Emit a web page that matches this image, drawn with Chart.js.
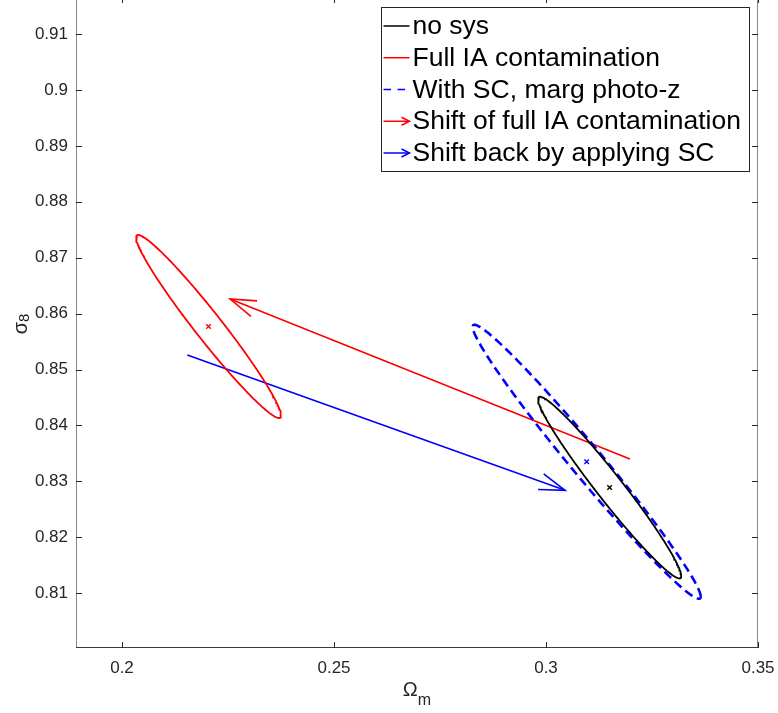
<!DOCTYPE html>
<html><head><meta charset="utf-8">
<script src="https://cdn.jsdelivr.net/npm/chart.js@4.4.1/dist/chart.umd.min.js"></script>
<style>html,body{margin:0;padding:0;background:#fff;}canvas{display:block;}</style>
</head><body>
<canvas id="c" width="778" height="713"></canvas>
<script>
// ---- data ----
const seriesLabels = ['no sys', 'Full IA contamination', 'With SC, marg photo-z',
  'Shift of full IA contamination', 'Shift back by applying SC'];
// Fisher ellipses: centre, 1-sigma widths and correlation (Omega_m, sigma_8)
const ellipseCenterOm = [0.3150, 0.2204, 0.3096];
const ellipseCenterS8 = [0.8289, 0.8577, 0.8335];
const ellipseSigmaOm  = [0.01688, 0.01709, 0.02689];
const ellipseSigmaS8  = [0.01624, 0.01637, 0.02450];
const ellipseRho      = [-0.973, -0.9715, -0.984];
// shift arrows (start -> end)
const arrowStartOm = [0.3198, 0.2154];
const arrowStartS8 = [0.8340, 0.8526];
const arrowEndOm   = [0.2255, 0.3045];
const arrowEndS8   = [0.8626, 0.8284];
// axes
const xTicks = [0.2, 0.25, 0.3, 0.35];
const xTickLabels = ['0.2', '0.25', '0.3', '0.35'];
const yTicks = [0.81, 0.82, 0.83, 0.84, 0.85, 0.86, 0.87, 0.88, 0.89, 0.9, 0.91];
const yTickLabels = ['0.81', '0.82', '0.83', '0.84', '0.85', '0.86', '0.87', '0.88', '0.89', '0.9', '0.91'];

// ---- styling ----
const FONT = '"Liberation Sans", Arial, Helvetica, sans-serif';
const colors = ['#000000', '#ff0000', '#0000ff', '#ff0000', '#0000ff'];
const AX = '#262626';

function ellipsePoints(i) {
  const pts = [];
  const n = 240, r = ellipseRho[i], s = Math.sqrt(1 - r * r);
  for (let k = 0; k <= n; k++) {
    const t = 2 * Math.PI * k / n;
    pts.push({
      x: ellipseCenterOm[i] + ellipseSigmaOm[i] * Math.cos(t),
      y: ellipseCenterS8[i] + ellipseSigmaS8[i] * (r * Math.cos(t) + s * Math.sin(t))
    });
  }
  return pts;
}

const datasets = [];
const lineW = [1.8, 1.8, 2.6];
for (let i = 0; i < 3; i++) {
  datasets.push({
    label: seriesLabels[i], data: ellipsePoints(i), showLine: true,
    borderColor: colors[i], borderWidth: lineW[i], pointRadius: 0, fill: false,
    borderDash: i === 2 ? [9, 5] : []
  });
}
for (let j = 0; j < 2; j++) {
  datasets.push({
    label: seriesLabels[3 + j], isArrow: true,
    data: [{x: arrowStartOm[j], y: arrowStartS8[j]}, {x: arrowEndOm[j], y: arrowEndS8[j]}],
    showLine: true, borderColor: colors[3 + j], borderWidth: 1.6, pointRadius: 0, fill: false
  });
}
for (let i = 0; i < 3; i++) {
  datasets.push({
    label: '', isMarker: true,
    data: [{x: ellipseCenterOm[i], y: ellipseCenterS8[i]}],
    showLine: false, pointStyle: 'crossRot', pointRadius: 3.2,
    borderColor: colors[i], backgroundColor: colors[i], borderWidth: 1.4
  });
}

function noPad(s) { s.paddingLeft = 0; s.paddingRight = 0; s.paddingTop = 0; s.paddingBottom = 0; }

const framePlugin = {
  id: 'frame',
  afterDatasetsDraw(chart) {
    const ctx = chart.ctx, a = chart.chartArea;
    const xs = chart.scales.x, ys = chart.scales.y;
    ctx.save();
    // arrow heads
    chart.data.datasets.forEach((ds, i) => {
      if (!ds.isArrow) return;
      const pts = chart.getDatasetMeta(i).data;
      const p0 = pts[0], p1 = pts[1];
      const ang = Math.atan2(p0.y - p1.y, p0.x - p1.x);
      const L = 27, da = 18 * Math.PI / 180;
      ctx.strokeStyle = ds.borderColor; ctx.lineWidth = ds.borderWidth;
      ctx.beginPath();
      ctx.moveTo(p1.x + L * Math.cos(ang + da), p1.y + L * Math.sin(ang + da));
      ctx.lineTo(p1.x, p1.y);
      ctx.lineTo(p1.x + L * Math.cos(ang - da), p1.y + L * Math.sin(ang - da));
      ctx.stroke();
    });
    // axes box
    ctx.lineWidth = 1;
    ctx.strokeStyle = '#8a8a8a';
    ctx.beginPath();
    ctx.moveTo(a.left + 0.5, a.top); ctx.lineTo(a.left + 0.5, a.bottom);
    ctx.moveTo(a.right - 0.5, a.top); ctx.lineTo(a.right - 0.5, a.bottom);
    ctx.stroke();
    ctx.strokeStyle = '#3a3a3a';
    ctx.beginPath();
    ctx.moveTo(a.left, a.bottom - 0.5); ctx.lineTo(a.right, a.bottom - 0.5);
    ctx.stroke();
    // inward ticks
    ctx.strokeStyle = AX;
    ctx.beginPath();
    xTicks.forEach(v => {
      const px = Math.round(xs.getPixelForValue(v)) + 0.5;
      ctx.moveTo(px, a.bottom); ctx.lineTo(px, a.bottom - 6);
      ctx.moveTo(px, a.top); ctx.lineTo(px, a.top + 3);
    });
    yTicks.forEach(v => {
      const py = Math.round(ys.getPixelForValue(v)) + 0.5;
      ctx.moveTo(a.left, py); ctx.lineTo(a.left + 6, py);
      ctx.moveTo(a.right, py); ctx.lineTo(a.right - 6, py);
    });
    ctx.stroke();

    // legend
    const bx = 381, by = 7, bw = 368, bh = 164;
    ctx.fillStyle = '#ffffff';
    ctx.fillRect(bx, by, bw, bh);
    ctx.strokeStyle = '#262626'; ctx.lineWidth = 1;
    ctx.strokeRect(bx + 0.5, by + 0.5, bw, bh);
    ctx.font = '26.5px ' + FONT;
    ctx.textBaseline = 'alphabetic';
    ctx.textAlign = 'left';
    for (let i = 0; i < 5; i++) {
      const ds = chart.data.datasets[i];
      const ry = by + 19 + i * 31.75;
      const x0 = 383.5, x1 = 409.5;
      ctx.strokeStyle = ds.borderColor;
      ctx.lineWidth = 1.5;
      ctx.setLineDash(i === 2 ? [7.5, 6.5] : []);
      ctx.beginPath(); ctx.moveTo(x0, ry); ctx.lineTo(x1, ry); ctx.stroke();
      ctx.setLineDash([]);
      if (ds.isArrow) {
        ctx.beginPath();
        ctx.moveTo(x1 - 8, ry - 4); ctx.lineTo(x1, ry); ctx.lineTo(x1 - 8, ry + 4);
        ctx.stroke();
      }
      ctx.fillStyle = '#000000';
      ctx.fillText(ds.label, 412.5, ry + 8);
    }
    ctx.restore();
  },
  afterDraw(chart) {
    const ctx = chart.ctx, a = chart.chartArea;
    ctx.save();
    ctx.fillStyle = AX;
    ctx.textAlign = 'left';
    ctx.textBaseline = 'alphabetic';
    // x title  Omega_m
    ctx.font = '20px ' + FONT;
    const wO = ctx.measureText('\u03A9').width;
    ctx.font = '16px ' + FONT;
    const wm = ctx.measureText('m').width;
    const cx = (a.left + a.right) / 2;
    let sx = cx - (wO + wm) / 2;
    ctx.font = '20px ' + FONT;
    ctx.fillText('\u03A9', sx, 696);
    ctx.font = '16px ' + FONT;
    ctx.fillText('m', sx + wO, 705);
    // y title sigma_8
    ctx.translate(26.7, (a.top + a.bottom) / 2);
    ctx.rotate(-Math.PI / 2);
    ctx.font = '20px ' + FONT;
    const ws = ctx.measureText('\u03C3').width;
    ctx.font = '15px ' + FONT;
    const w8 = ctx.measureText('8').width;
    const sy = -(ws + w8) / 2;
    ctx.font = '20px ' + FONT;
    ctx.fillText('\u03C3', sy, 0);
    ctx.font = '15px ' + FONT;
    ctx.fillText('8', sy + ws, 2.6);
    ctx.restore();
  }
};

new Chart(document.getElementById('c'), {
  type: 'scatter',
  data: {datasets},
  options: {
    responsive: false, animation: false, devicePixelRatio: 1,
    layout: {autoPadding: false, padding: {left: 0, right: 20, top: 0, bottom: 0}},
    plugins: {legend: {display: false}, tooltip: {enabled: false}},
    scales: {
      x: {
        type: 'linear', min: 0.18915, max: 0.35,
        afterBuildTicks: s => { s.ticks = xTicks.map(v => ({value: v})); },
        afterFit: s => { s.height = 65; noPad(s); },
        grid: {display: false, drawTicks: false}, border: {display: false},
        ticks: {padding: 10, color: AX, font: {family: FONT, size: 17},
          maxRotation: 0, autoSkip: false,
          callback: (v, i) => xTickLabels[i]}
      },
      y: {
        type: 'linear', min: 0.8002, max: 0.91608,
        afterBuildTicks: s => { s.ticks = yTicks.map(v => ({value: v})); },
        afterFit: s => { s.width = 76; noPad(s); },
        grid: {display: false, drawTicks: false}, border: {display: false},
        ticks: {padding: 8, color: AX, font: {family: FONT, size: 17}, autoSkip: false,
          callback: (v, i) => yTickLabels[i]}
      }
    }
  },
  plugins: [framePlugin]
});
</script>
</body></html>
